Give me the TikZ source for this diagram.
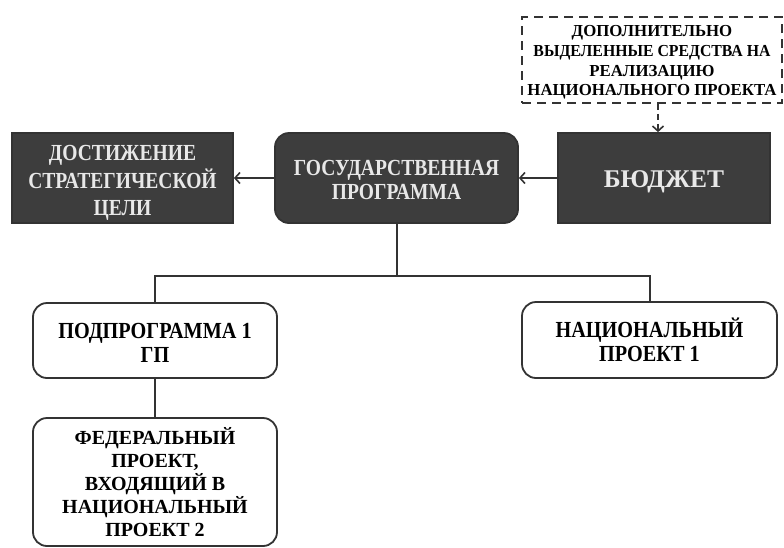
\documentclass[tikz,border=0pt]{standalone}
\usepackage{fontspec}
\usepackage{graphicx}
\setmainfont{Liberation Serif}
\newfontfamily\condA[FakeStretch=0.85]{Liberation Serif}
\newfontfamily\condB[FakeStretch=0.88]{Liberation Serif}
\usetikzlibrary{arrows.meta,calc}
\definecolor{boxdark}{HTML}{3D3D3D}
\definecolor{boxtext}{HTML}{E8E8E8}
\definecolor{linegray}{HTML}{333333}
\tikzset{
  darkbox/.style={draw=linegray, line width=1.8pt, fill=boxdark, inner sep=0pt},
  whitebox/.style={draw=linegray, line width=1.8pt, fill=white, rounded corners=14pt, inner sep=0pt},
  dashbox/.style={draw=linegray, line width=1.8pt, dash pattern=on 9pt off 6pt, inner sep=0pt},
  lbl/.style={align=center, inner sep=0pt},
  conn/.style={draw=linegray, line width=2pt},
  arr/.style={conn, -{Straight Barb[length=5pt,width=11pt,line width=1.6pt]}},
}
\begin{document}
\begin{tikzpicture}[x=1pt,y=-1pt]
\useasboundingbox (0,0) rectangle (784,547);
\node[darkbox, minimum width=221pt, minimum height=90pt,
  label={[lbl, text=boxtext, yshift=-5pt, font=\condA\bfseries\fontsize{23}{27.5}\selectfont]center:ДОСТИЖЕНИЕ\\СТРАТЕГИЧЕСКОЙ\\ЦЕЛИ}] (goal) at (122.5,178) {};
\node[darkbox, rounded corners=14pt, minimum width=243pt, minimum height=90pt,
  label={[lbl, text=boxtext, yshift=-2pt, font=\condA\bfseries\fontsize{23}{24.5}\selectfont]center:ГОСУДАРСТВЕННАЯ\\ПРОГРАММА}] (gp) at (396.5,178) {};
\node[darkbox, minimum width=212pt, minimum height=90pt,
  label={[lbl, text=boxtext, yshift=-4pt, font=\bfseries\fontsize{25.5}{30}\selectfont]center:БЮДЖЕТ}] (budget) at (664,178) {};
\node[dashbox, minimum width=260pt, minimum height=86pt,
  label={[lbl, text=black, yshift=-2.5pt, font=\bfseries\fontsize{16.8}{19.8}\selectfont]center:ДОПОЛНИТЕЛЬНО\\\scalebox{0.94}[1]{ВЫДЕЛЕННЫЕ СРЕДСТВА НА}\\РЕАЛИЗАЦИЮ\\НАЦИОНАЛЬНОГО ПРОЕКТА}] (extra) at (652,60) {};
\node[whitebox, minimum width=244pt, minimum height=75pt,
  label={[lbl, text=black, yshift=-2.5pt, font=\condB\bfseries\fontsize{23}{24.5}\selectfont]center:ПОДПРОГРАММА 1\\ГП}] (sub) at (155,340.5) {};
\node[whitebox, minimum width=255pt, minimum height=76pt,
  label={[lbl, text=black, font=\condB\bfseries\fontsize{23}{24.5}\selectfont]center:НАЦИОНАЛЬНЫЙ\\ПРОЕКТ 1}] (nat) at (649.5,340) {};
\node[whitebox, minimum width=244pt, minimum height=128pt,
  label={[lbl, text=black, font=\bfseries\fontsize{20}{23}\selectfont]center:ФЕДЕРАЛЬНЫЙ\\ПРОЕКТ,\\ВХОДЯЩИЙ В\\НАЦИОНАЛЬНЫЙ\\ПРОЕКТ 2}] (fed) at (155,482) {};
\coordinate (ax) at (658,0);
\coordinate (bus) at (0,276);
\draw[arr] (budget.west) -- (gp.east);
\draw[arr] (gp.west) -- (goal.east);
\draw[arr, dash pattern=on 6pt off 4pt] (extra.south -| ax) -- (budget.north -| ax);
\draw[conn] (gp.south) -- (gp.south |- bus);
\draw[conn] (sub.north) -- (sub.north |- bus) -- (nat.north |- bus) -- (nat.north);
\draw[conn] (sub.south) -- (fed.north);
\end{tikzpicture}
\end{document}
